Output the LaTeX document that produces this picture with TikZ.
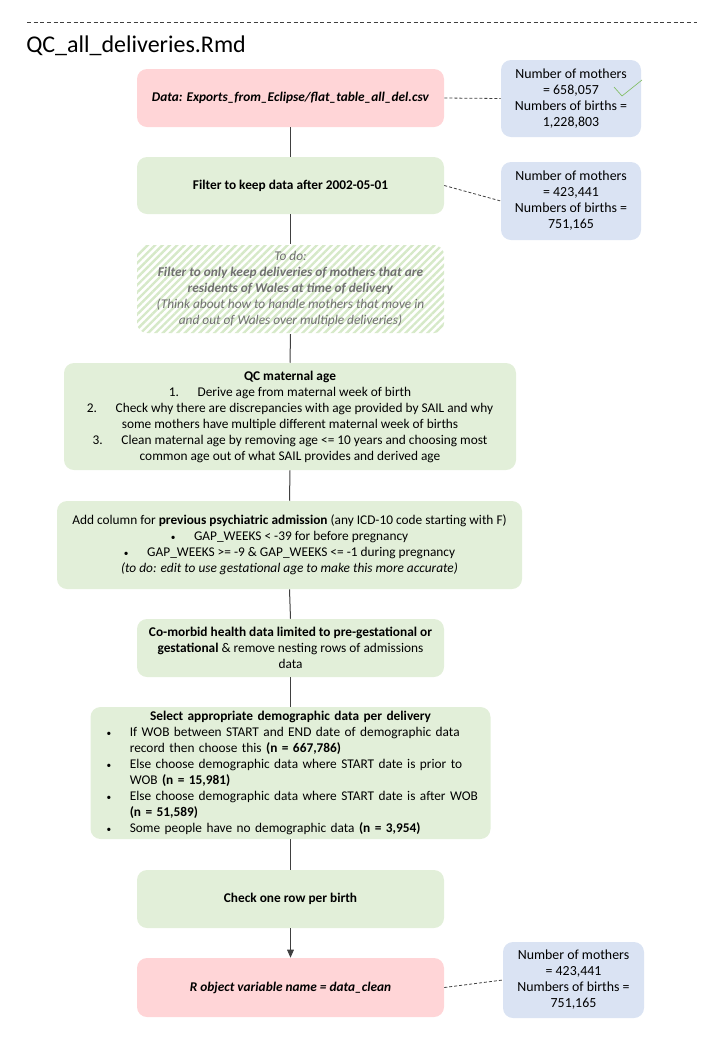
\documentclass[tikz,border=0pt]{standalone}
\usepackage{fontspec}
\setmainfont{Carlito}
\usepackage[x11names, svgnames]{xcolor}
\definecolor{BoxPink}{RGB}{255,213,215}
\definecolor{BoxGreen}{RGB}{226,239,217}
\definecolor{BoxBlue}{RGB}{218,227,243}
\definecolor{HatchGreen}{RGB}{214,233,200}
\definecolor{ToDoGrey}{RGB}{112,112,112}
\definecolor{LineGrey}{RGB}{64,64,64}
\definecolor{TickGreen}{RGB}{130,190,100}
\usepackage{enumitem}
\usepackage{tikz}
\usetikzlibrary{arrows.meta, patterns.meta}

\tikzset{
	boxsize/.style 2 args={minimum width=#1*0.75pt, minimum height=#2*0.75pt},
	stage/.style={rounded corners=7.5pt, align=center, inner sep=0pt, fill=BoxGreen, font=\fontsize{10}{12}\selectfont},
	tally/.style={stage, fill=BoxBlue, font=\fontsize{10.4}{12}\selectfont},
	flow/.style={LineGrey, line width=0.75pt},
	note/.style={LineGrey, line width=0.6pt, dash pattern=on 2.25pt off 1.5pt},
}
\newcommand{\smallbullet}{{\fontsize{7}{7}\selectfont\textbullet}}

\begin{document}
\begin{tikzpicture}[x=0.75pt, y=-0.75pt]

	\useasboundingbox (0,0) rectangle (720,1040);

	\draw[LineGrey, line width=0.5pt, dash pattern=on 3pt off 2pt] (27,22) -- (697,22);
	\node[anchor=base west, inner sep=0pt, font=\fontsize{18}{20}\selectfont] (title) at (26,52) {QC\_all\_deliveries.Rmd};

	\node[stage, fill=BoxPink, boxsize={307}{58}] (data) at (290.5,98) {\textbf{\textit{Data: Exports\_from\_Eclipse/flat\_table\_all\_del.csv}}};
	\node[stage, boxsize={307}{57}] (filter) at (290.5,185.5) {\textbf{Filter to keep data after 2002-05-01}};
	\node[stage, fill=none, pattern={Lines[angle=45, distance=3.9pt, line width=1.8pt]}, pattern color=HatchGreen, text=ToDoGrey, boxsize={307}{88}] (todo) at (290.5,289) {\textit{To do:}\\
		\textbf{\textit{Filter to only keep deliveries of mothers that are}}\\
		\textbf{\textit{residents of Wales at time of delivery}}\\
		\textit{(Think about how to handle mothers that move in}\\
		\textit{and out of Wales over multiple deliveries)}};
	\node[stage, boxsize={452}{107}] (age) at (290,416.5) {\textbf{QC maternal age}\\
		1.\hspace{1.4em}Derive age from maternal week of birth\\
		2.\hspace{1.4em}Check why there are discrepancies with age provided by SAIL and why\\
		some mothers have multiple different maternal week of births\\
		3.\hspace{1.4em}Clean maternal age by removing age <= 10 years and choosing most\\
		common age out of what SAIL provides and derived age};
	\node[stage, boxsize={465}{88}] (psych) at (289.5,545) {Add column for \textbf{previous psychiatric admission} (any ICD-10 code starting with F)\\
		\smallbullet\hspace{1.4em}GAP\_WEEKS < -39 for before pregnancy\\
		\smallbullet\hspace{1.4em}GAP\_WEEKS >= -9 \& GAP\_WEEKS <= -1 during pregnancy\\
		\textit{(to do: edit to use gestational age to make this more accurate)}};
	\node[stage, boxsize={307}{58}] (comorb) at (290.5,648) {\textbf{Co-morbid health data limited to pre-gestational or}\\
		\textbf{gestational} \& remove nesting rows of admissions\\
		data};
	\node[stage, align=left, text width=277pt, boxsize={400}{132}] (demog) at (290.5,773) {{\centering\textbf{Select appropriate demographic data per delivery}\par}
		\begin{itemize}[leftmargin=18pt, rightmargin=-12pt, labelsep=14pt, label=\smallbullet, itemsep=0pt, topsep=0pt, parsep=0pt, partopsep=0pt, before=\raggedright]
			\item If WOB between START and END date of demographic data\newline record then choose this \textbf{(n = 667,786)}
			\item Else choose demographic data where START date is prior to\newline WOB \textbf{(n = 15,981)}
			\item Else choose demographic data where START date is after WOB\newline \textbf{(n = 51,589)}
			\item Some people have no demographic data \textbf{(n = 3,954)}
		\end{itemize}};
	\node[stage, boxsize={307}{58}] (check) at (290.5,899) {\textbf{Check one row per birth}};
	\node[stage, fill=BoxPink, boxsize={307}{59}] (clean) at (290.5,987.5) {\textbf{\textit{R object variable name = data\_clean}}};

	\node[tally, boxsize={140}{77}] (dataN) at (571,98.5) {Number of mothers\\= 658,057\\Numbers of births =\\1,228,803};
	\node[tally, boxsize={140}{78}] (filterN) at (571,201) {Number of mothers\\= 423,441\\Numbers of births =\\751,165};
	\node[tally, boxsize={141}{76}] (cleanN) at (573.5,980) {Number of mothers\\= 423,441\\Numbers of births =\\751,165};

	\draw[flow] (data.south) -- (filter.north);
	\draw[flow] (filter.south) -- (todo.north);
	\draw[flow] (todo.south) -- (age.north);
	\draw[flow] (age.south) -- (psych.north);
	\draw[flow] (psych.south) -- (comorb.north);
	\draw[flow] (comorb.south) -- (demog.north);
	\draw[flow] (demog.south) -- (check.north);
	\draw[flow, -{Triangle[length=6pt, width=5pt]}] (check.south) -- (clean.north);

	\draw[note] (data.east) -- (dataN.west);
	\draw[note] (filter.east) -- (filterN.west);
	\draw[note] (clean.east) -- (cleanN.west);

	\draw[TickGreen, line width=0.5pt] (614,87) -- (622,96) -- (642,80);

\end{tikzpicture}
\end{document}
